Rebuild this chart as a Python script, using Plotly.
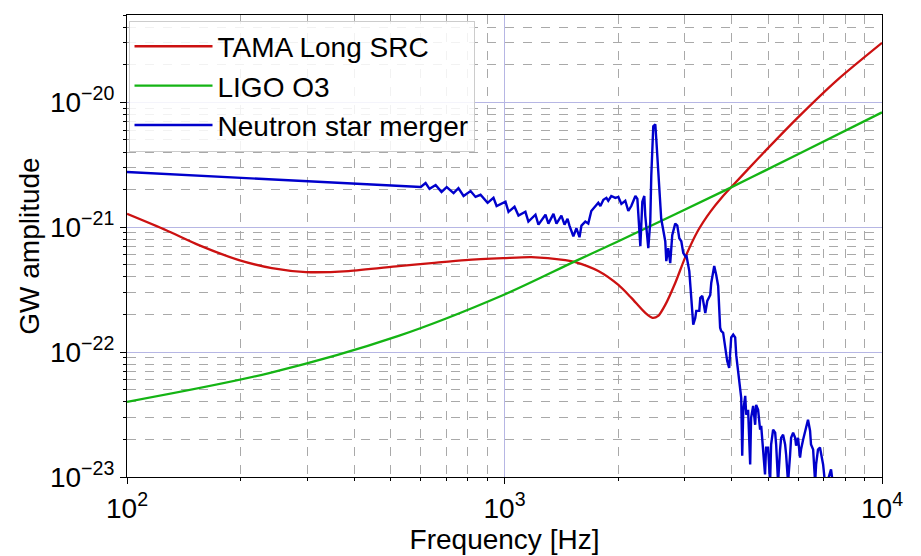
import plotly.graph_objects as go

# ---------------- data ----------------
tama_freq = [100, 127, 155, 198, 242, 298, 386, 524, 641, 788, 993, 1179, 1449, 1541,
             1772, 2003, 2168, 2360, 2466, 2554, 2666, 2833, 3013, 3259, 3508, 3773,
             4035, 4419, 4902, 5992, 7645, 10000]
tama_amp = [1.28e-21, 9.46e-22, 7.19e-22, 5.46e-22, 4.71e-22, 4.38e-22, 4.46e-22, 4.89e-22,
            5.17e-22, 5.46e-22, 5.66e-22, 5.77e-22, 5.46e-22, 5.26e-22, 4.46e-22, 3.45e-22,
            2.72e-22, 2.06e-22, 1.88e-22, 1.95e-22, 2.39e-22, 3.58e-22, 5.77e-22, 9.46e-22,
            1.33e-21, 1.75e-21, 2.18e-21, 2.92e-21, 4.07e-21, 7.59e-21, 1.53e-20, 3.0e-20]

ligo_freq = [100, 238, 524, 993, 1541, 2003, 3912, 5992, 10000]
ligo_amp = [4.0e-23, 6.80e-23, 1.35e-22, 2.87e-22, 5.36e-22, 7.73e-22, 2.03e-21, 3.85e-21,
            8.32e-21]

ns_freq = [100, 600, 618, 633, 657, 681, 703, 733, 755, 779, 813, 838, 864, 902, 935, 953,
           1006, 1025, 1063, 1089, 1136, 1157, 1208, 1230, 1284, 1307, 1348, 1373, 1415, 1442,
           1469, 1486, 1522, 1551, 1580, 1599, 1637, 1667, 1698, 1741, 1772, 1795, 1828, 1862,
           1883, 1918, 1966, 2003, 2040, 2089, 2128, 2167, 2222, 2249, 2290, 2318, 2346, 2360,
           2404, 2433, 2448, 2478, 2509, 2524, 2554, 2601, 2666, 2683, 2715, 2748, 2782, 2833,
           2869, 2904, 2940, 2976, 3013, 3032, 3087, 3124, 3162, 3201, 3221, 3281, 3301, 3342,
           3383, 3403, 3445, 3508, 3529, 3594, 3638, 3681, 3726, 3748, 3795, 3843, 3865, 3890,
           3937, 3986, 4035, 4084, 4110, 4186, 4237, 4263, 4290, 4342, 4368, 4419, 4475, 4500,
           4557, 4613, 4641, 4697, 4755, 4786, 4842, 4899, 4931, 4991, 5053, 5085, 5147, 5212,
           5243, 5305, 5370, 5405, 5470, 5538, 5572, 5638, 5709, 5744, 5815, 5888, 5922, 5992,
           6066, 6103, 6180, 6252, 6291, 6368, 6448, 6486, 6570, 6651, 6690, 6768, 6850, 6897,
           6982, 7063, 7193, 7328, 7420, 7600]
ns_amp = [2.77e-21, 2.10e-21, 2.26e-21, 2.03e-21, 2.18e-21, 1.92e-21, 2.10e-21, 1.88e-21,
          2.06e-21, 1.78e-21, 1.95e-21, 1.75e-21, 1.82e-21, 1.57e-21, 1.72e-21, 1.48e-21,
          1.60e-21, 1.33e-21, 1.46e-21, 1.24e-21, 1.33e-21, 1.11e-21, 1.26e-21, 1.05e-21,
          1.26e-21, 1.07e-21, 1.28e-21, 1.07e-21, 1.24e-21, 1.05e-21, 1.17e-21, 1.03e-21,
          8.48e-22, 9.82e-22, 8.32e-22, 1.03e-21, 1.11e-21, 1.07e-21, 1.35e-21, 1.46e-21,
          1.57e-21, 1.48e-21, 1.66e-21, 1.72e-21, 1.63e-21, 1.78e-21, 1.72e-21, 1.75e-21,
          1.54e-21, 1.63e-21, 1.35e-21, 1.48e-21, 1.78e-21, 1.69e-21, 7.06e-22, 1.60e-21,
          1.78e-21, 1.24e-21, 6.80e-22, 1.11e-21, 2.57e-21, 6.44e-21, 6.68e-21, 5.07e-21,
          2.57e-21, 1.17e-21, 7.73e-22, 5.36e-22, 6.80e-22, 5.17e-22, 8.64e-22, 1.07e-21,
          1.03e-21, 8.17e-22, 7.73e-22, 6.21e-22, 5.87e-22, 6.00e-22, 4.46e-22, 2.87e-22,
          1.66e-22, 1.88e-22, 2.14e-22, 2.14e-22, 2.72e-22, 2.82e-22, 2.35e-22, 2.06e-22,
          2.57e-22, 2.87e-22, 3.58e-22, 4.89e-22, 4.14e-22, 3.39e-22, 1.57e-22, 1.48e-22,
          1.43e-22, 1.09e-22, 9.46e-23, 8.48e-23, 7.46e-23, 1.31e-22, 1.38e-22, 1.31e-22,
          9.46e-23, 5.46e-23, 4.30e-23, 1.48e-23, 3.39e-23, 4.46e-23, 3.15e-23, 3.45e-23,
          1.26e-23, 2.98e-23, 3.71e-23, 2.62e-23, 3.78e-23, 3.45e-23, 2.39e-23, 2.57e-23,
          1.63e-23, 1.05e-23, 1.72e-23, 1.72e-23, 9.0e-24, 1.82e-23, 2.39e-23, 2.26e-23,
          1.82e-23, 9.0e-24, 1.66e-23, 2.06e-23, 2.18e-23, 1.82e-23, 1.51e-23, 9.0e-24,
          1.51e-23, 2.06e-23, 2.26e-23, 2.06e-23, 1.78e-23, 2.06e-23, 1.43e-23, 1.66e-23,
          1.99e-23, 2.35e-23, 2.57e-23, 2.87e-23, 2.35e-23, 1.82e-23, 1.66e-23, 9.0e-24,
          1.26e-23, 1.66e-23, 1.72e-23, 1.51e-23, 1.26e-23, 9.0e-24, 9.5e-24, 1.15e-23,
          9.0e-24, 5.0e-24]

x_ticks = [100, 1000, 10000]
x_ticklabels = ["10<sup>2</sup>", "10<sup>3</sup>", "10<sup>4</sup>"]
y_ticks = [1e-23, 1e-22, 1e-21, 1e-20]
y_ticklabels = ["10<sup>\u221223</sup>", "10<sup>\u221222</sup>", "10<sup>\u221221</sup>",
                "10<sup>\u221220</sup>"]

# ---------------- figure ----------------
FONT = "Liberation Sans, Arial, sans-serif"
MAJOR_GRID = "#b6b6e4"
MINOR_GRID = "#a9a9a9"

x_minor = [m * 10 ** e for e in (2, 3) for m in range(2, 10)]
y_minor = [m * 10.0 ** e for e in (-23, -22, -21, -20) for m in range(2, 10)]

fig = go.Figure()
fig.add_trace(go.Scatter(x=tama_freq, y=tama_amp, mode="lines", name="TAMA Long SRC",
                         line=dict(color="#cc1111", width=2.3, shape="spline", smoothing=0.7)))
fig.add_trace(go.Scatter(x=ligo_freq, y=ligo_amp, mode="lines", name="LIGO O3",
                         line=dict(color="#14b414", width=2.3, shape="spline", smoothing=0.9)))
fig.add_trace(go.Scatter(x=ns_freq, y=ns_amp, mode="lines", name="Neutron star merger",
                         line=dict(color="#0000cc", width=2.4)))

axis_common = dict(
    type="log", showline=True, linecolor="black", linewidth=1.2, mirror=True,
    ticks="outside", ticklen=6, tickcolor="black", tickwidth=1, automargin=False,
    showgrid=True, gridcolor=MAJOR_GRID, gridwidth=1, zeroline=False,
    tickfont=dict(family=FONT, size=28, color="black"),
)

fig.update_xaxes(
    **axis_common, range=[2, 4], tickmode="array", tickvals=x_ticks, ticktext=x_ticklabels,
    title=dict(text="Frequency [Hz]", font=dict(family=FONT, size=28, color="black"), standoff=0),
    minor=dict(tickmode="array", tickvals=x_minor, showgrid=True, gridcolor=MINOR_GRID,
               griddash="dash", gridwidth=1, ticks="outside", ticklen=3, tickcolor="black"),
)
fig.update_yaxes(
    **axis_common, range=[-23, -19.30], tickmode="array", tickvals=y_ticks, ticktext=y_ticklabels,
    title=dict(text="GW amplitude", font=dict(family=FONT, size=28, color="black"), standoff=2),
    minor=dict(tickmode="array", tickvals=y_minor, showgrid=True, gridcolor=MINOR_GRID,
               griddash="dash", gridwidth=1, ticks="outside", ticklen=3, tickcolor="black"),
)

fig.update_layout(
    width=921, height=556,
    margin=dict(l=127, r=39, t=15, b=79),
    paper_bgcolor="white", plot_bgcolor="white",
    font=dict(family=FONT, color="black"),
    showlegend=True,
    legend=dict(x=0.002, y=0.988, xanchor="left", yanchor="top",
                bgcolor="rgba(255,255,255,0.85)", bordercolor="#cccccc", borderwidth=1,
                font=dict(family=FONT, size=28, color="black"), itemwidth=78),
)

fig.write_html("out.html", config={"displayModeBar": False},
               post_script="document.body.style.margin='0';document.body.style.overflow='hidden';")
